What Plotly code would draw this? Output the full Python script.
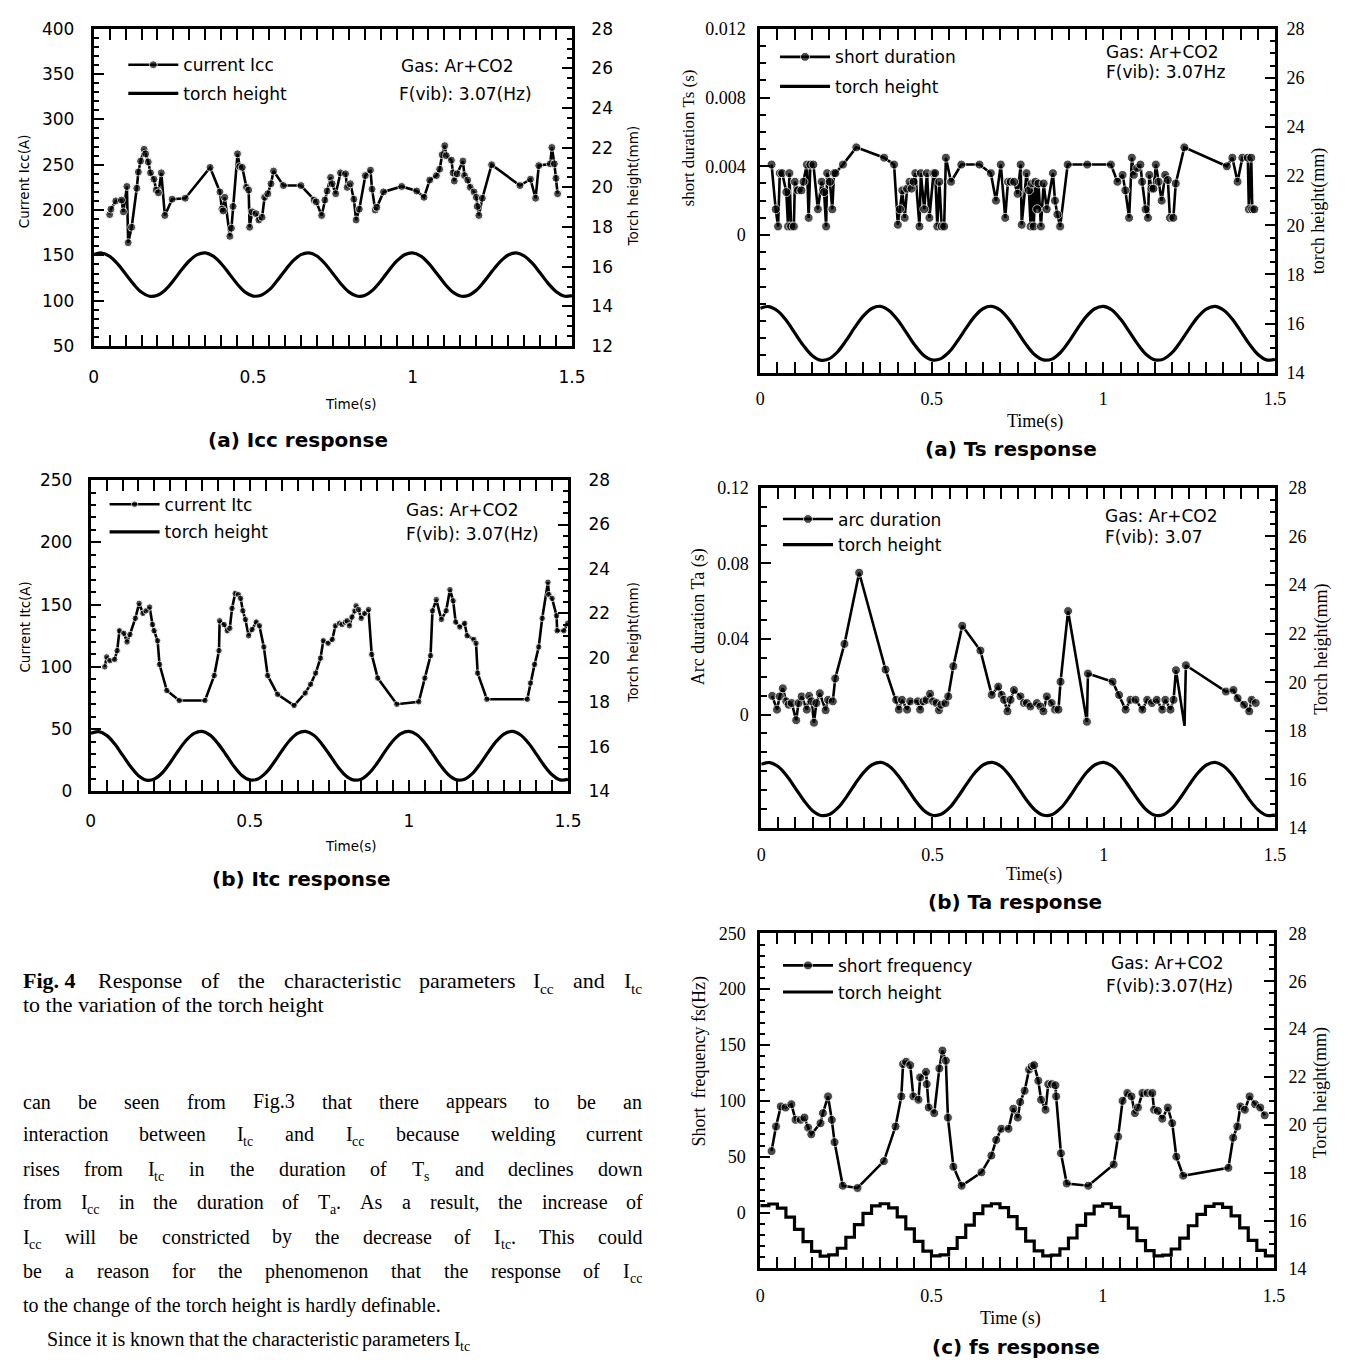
import re
import plotly.graph_objects as go

W, H = 1354, 1371


def fx(p):
    return p / W


def fy(p):
    return 1 - p / H


# ---------------- data ----------------
th_t = [0.000, 0.025, 0.050, 0.075, 0.100, 0.125, 0.150, 0.175, 0.200, 0.225,
        0.250, 0.275, 0.300, 0.325, 0.350, 0.375, 0.400, 0.425, 0.450, 0.475,
        0.500, 0.525, 0.550, 0.575, 0.600, 0.625, 0.650, 0.675, 0.700, 0.725,
        0.750, 0.775, 0.800, 0.825, 0.850, 0.875, 0.900, 0.925, 0.950, 0.975,
        1.000, 1.025, 1.050, 1.075, 1.100, 1.125, 1.150, 1.175, 1.200, 1.225,
        1.250, 1.275, 1.300, 1.325, 1.350, 1.375, 1.400, 1.425, 1.450, 1.475,
        1.500]
th_v = [16.62, 16.69, 16.52, 16.14, 15.63, 15.12, 14.71, 14.51, 14.56, 14.84,
        15.30, 15.83, 16.30, 16.61, 16.70, 16.53, 16.15, 15.65, 15.13, 14.72,
        14.52, 14.56, 14.83, 15.29, 15.81, 16.29, 16.61, 16.70, 16.54, 16.16,
        15.66, 15.14, 14.73, 14.52, 14.55, 14.82, 15.27, 15.80, 16.28, 16.60,
        16.70, 16.55, 16.18, 15.68, 15.16, 14.74, 14.52, 14.55, 14.81, 15.26,
        15.78, 16.26, 16.59, 16.70, 16.55, 16.19, 15.69, 15.17, 14.75, 14.52,
        14.54]

icc_t = [0.050, 0.054, 0.069, 0.087, 0.093, 0.104, 0.108, 0.119, 0.135, 0.140,
         0.147, 0.158, 0.163, 0.171, 0.178, 0.189, 0.196, 0.203, 0.212, 0.223,
         0.246, 0.287, 0.365, 0.396, 0.402, 0.406, 0.411, 0.427, 0.432, 0.437,
         0.451, 0.458, 0.466, 0.479, 0.486, 0.489, 0.497, 0.509, 0.518, 0.528,
         0.536, 0.546, 0.556, 0.564, 0.595, 0.650, 0.691, 0.698, 0.715, 0.725,
         0.732, 0.743, 0.748, 0.759, 0.774, 0.790, 0.795, 0.805, 0.816, 0.823,
         0.833, 0.852, 0.868, 0.873, 0.883, 0.888, 0.909, 0.966, 1.013, 1.036,
         1.054, 1.075, 1.085, 1.093, 1.101, 1.106, 1.122, 1.127, 1.131, 1.140,
         1.158, 1.163, 1.173, 1.181, 1.193, 1.200, 1.203, 1.208, 1.219, 1.248,
         1.337, 1.370, 1.386, 1.396, 1.432, 1.437, 1.445, 1.450, 1.455]
icc_v = [195, 201, 210, 211, 198, 226, 164, 181, 224, 242,
         254, 267, 262, 253, 241, 234, 222, 219, 241, 194,
         212, 213, 247, 220, 201, 199, 214, 171, 180, 204,
         262, 248, 247, 225, 222, 181, 198, 196, 189, 192,
         214, 218, 229, 243, 227, 227, 211, 209, 194, 211,
         221, 236, 229, 218, 241, 240, 225, 229, 212, 189,
         201, 238, 244, 223, 200, 203, 220, 226, 221, 214,
         233, 238, 245, 261, 271, 260, 255, 241, 232, 240,
         254, 238, 233, 225, 220, 214, 204, 194, 213, 250,
         227, 234, 213, 249, 251, 269, 251, 235, 218]

itc_t = [0.044, 0.050, 0.060, 0.075, 0.083, 0.090, 0.104, 0.114, 0.123, 0.140,
         0.152, 0.164, 0.174, 0.185, 0.194, 0.199, 0.210, 0.216, 0.239, 0.278,
         0.359, 0.388, 0.403, 0.405, 0.419, 0.429, 0.437, 0.444, 0.454, 0.464,
         0.471, 0.478, 0.486, 0.496, 0.507, 0.520, 0.530, 0.544, 0.556, 0.587,
         0.639, 0.674, 0.691, 0.707, 0.722, 0.731, 0.746, 0.759, 0.769, 0.782,
         0.790, 0.800, 0.806, 0.813, 0.821, 0.830, 0.834, 0.842, 0.850, 0.861,
         0.873, 0.883, 0.902, 0.962, 1.031, 1.050, 1.068, 1.074, 1.086, 1.102,
         1.117, 1.129, 1.139, 1.147, 1.160, 1.175, 1.183, 1.204, 1.211, 1.216,
         1.245, 1.372, 1.382, 1.395, 1.408, 1.419, 1.437, 1.440, 1.450, 1.464,
         1.466, 1.487, 1.499]
itc_v = [100, 108, 105, 106, 113, 129, 127, 120, 126, 139,
         151, 143, 145, 148, 134, 129, 121, 102, 81, 73,
         73, 93, 113, 137, 134, 129, 131, 147, 159, 158,
         155, 145, 138, 125, 130, 136, 133, 116, 93, 78,
         69, 79, 86, 95, 107, 121, 119, 122, 133, 135,
         134, 136, 137, 133, 140, 145, 149, 146, 139, 143,
         146, 110, 91, 70, 72, 91, 109, 145, 154, 138,
         145, 162, 153, 136, 132, 135, 125, 122, 119, 95,
         74, 74, 87, 102, 116, 139, 168, 158, 155, 141,
         129, 129, 135]

ts_t = [0.033, 0.045, 0.052, 0.057, 0.064, 0.076, 0.081, 0.085, 0.090, 0.098,
        0.101, 0.110, 0.120, 0.126, 0.136, 0.141, 0.146, 0.155, 0.168, 0.179,
        0.186, 0.192, 0.195, 0.203, 0.210, 0.215, 0.219, 0.241, 0.280, 0.361,
        0.390, 0.401, 0.407, 0.414, 0.421, 0.428, 0.435, 0.441, 0.447, 0.452,
        0.464, 0.468, 0.478, 0.486, 0.493, 0.505, 0.510, 0.516, 0.522, 0.529,
        0.536, 0.541, 0.556, 0.586, 0.639, 0.672, 0.687, 0.701, 0.714, 0.722,
        0.730, 0.740, 0.750, 0.759, 0.762, 0.776, 0.783, 0.788, 0.792, 0.797,
        0.802, 0.807, 0.811, 0.818, 0.826, 0.835, 0.853, 0.859, 0.866, 0.874,
        0.896, 0.953, 1.022, 1.041, 1.056, 1.064, 1.075, 1.083, 1.089, 1.099,
        1.108, 1.113, 1.123, 1.130, 1.134, 1.140, 1.146, 1.153, 1.161, 1.170,
        1.180, 1.188, 1.194, 1.204, 1.211, 1.236, 1.360, 1.376, 1.391, 1.405,
        1.421, 1.424, 1.431, 1.434, 1.440]
ts_ms = [4.1, 1.5, 0.5, 3.6, 3.6, 2.5, 0.5, 3.6, 0.5, 0.5,
         3.1, 2.6, 2.6, 3.1, 4.1, 1.0, 4.1, 4.1, 1.5, 3.1,
         2.5, 0.5, 3.6, 3.1, 1.5, 3.6, 3.6, 4.1, 5.1, 4.5,
         4.1, 0.6, 1.5, 2.6, 1.0, 2.7, 3.1, 2.7, 3.1, 3.6,
         0.5, 3.6, 1.5, 3.6, 1.0, 3.6, 3.6, 0.5, 3.1, 0.5,
         0.5, 4.5, 3.1, 4.1, 4.1, 3.6, 2.0, 4.1, 1.0, 3.1,
         3.1, 3.1, 2.4, 4.1, 0.6, 3.6, 2.6, 0.5, 3.0, 0.5,
         3.1, 1.5, 3.0, 0.5, 3.0, 1.5, 3.6, 2.0, 1.2, 0.5,
         4.1, 4.1, 4.1, 3.1, 3.5, 2.6, 1.0, 4.5, 3.5, 3.9,
         4.1, 3.1, 1.5, 1.0, 3.5, 2.7, 2.7, 4.1, 3.1, 2.0,
         3.5, 3.2, 1.0, 1.0, 3.0, 5.1, 4.0, 4.5, 3.1, 4.5,
         4.5, 1.5, 4.5, 1.5, 1.5]

ta_t = [0.032, 0.046, 0.054, 0.063, 0.073, 0.080, 0.089, 0.102, 0.109, 0.118,
        0.133, 0.140, 0.147, 0.154, 0.161, 0.171, 0.188, 0.195, 0.209, 0.216,
        0.243, 0.286, 0.363, 0.394, 0.402, 0.411, 0.426, 0.435, 0.457, 0.464,
        0.474, 0.483, 0.493, 0.502, 0.512, 0.519, 0.526, 0.538, 0.546, 0.561,
        0.587, 0.640, 0.673, 0.692, 0.702, 0.709, 0.719, 0.728, 0.738, 0.757,
        0.767, 0.776, 0.786, 0.805, 0.815, 0.824, 0.834, 0.848, 0.858, 0.868,
        0.874, 0.896, 0.951, 0.954, 1.026, 1.045, 1.064, 1.078, 1.093, 1.113,
        1.127, 1.141, 1.155, 1.171, 1.180, 1.195, 1.204, 1.211, 1.236, 1.240,
        1.357, 1.379, 1.391, 1.410, 1.425, 1.432, 1.444]
ta_ms = [9.9, 2.6, 9.6, 13.9, 7.0, 5.2, 6.1, -3.0, 6.1, 9.6,
         2.6, 9.9, 7.0, -4.3, 6.1, 11.3, 2.3, 7.8, 7.0, 19.1,
         37.4, 75.1, 23.8, 7.8, 2.6, 7.8, 2.6, 7.0, 7.0, 2.6,
         7.0, 7.8, 11.0, 7.0, 6.1, 2.3, 5.2, 6.1, 9.6, 25.6,
         47.0, 33.9, 10.4, 14.8, 10.4, 7.8, 1.7, 7.8, 13.0, 9.6,
         6.1, 6.1, 4.3, 6.1, 4.3, 1.7, 9.6, 6.1, 2.6, 2.6,
         17.4, 54.8, -3.8, 21.7, 17.4, 10.4, 2.6, 7.8, 7.8, 2.6,
         7.8, 6.1, 7.8, 2.6, 7.8, 2.6, 7.8, 23.5, -6.0, 26.1,
         12.2, 13.0, 8.7, 5.2, 1.7, 7.8, 6.1]
ta_spike_t = [1.236]  # point drawn without a marker

fs_t = [0.033, 0.046, 0.060, 0.074, 0.091, 0.103, 0.118, 0.129, 0.140, 0.149,
        0.176, 0.183, 0.198, 0.209, 0.217, 0.241, 0.284, 0.361, 0.395, 0.412,
        0.417, 0.426, 0.438, 0.447, 0.462, 0.467, 0.484, 0.486, 0.492, 0.508,
        0.523, 0.532, 0.542, 0.548, 0.564, 0.588, 0.646, 0.675, 0.689, 0.704,
        0.725, 0.739, 0.752, 0.759, 0.772, 0.785, 0.793, 0.800, 0.812, 0.820,
        0.833, 0.841, 0.852, 0.862, 0.864, 0.878, 0.895, 0.958, 1.032, 1.045,
        1.058, 1.072, 1.084, 1.094, 1.103, 1.116, 1.131, 1.145, 1.150, 1.161,
        1.174, 1.190, 1.203, 1.215, 1.235, 1.367, 1.381, 1.393, 1.402, 1.415,
        1.429, 1.445, 1.460, 1.473]
fs_v = [55, 77, 95, 94, 97, 83, 83, 85, 76, 70,
        80, 89, 104, 83, 63, 24, 22, 46, 77, 104,
        133, 135, 132, 104, 101, 121, 126, 115, 94, 89,
        129, 145, 136, 85, 41, 24, 36, 51, 65, 75,
        75, 93, 85, 99, 109, 128, 131, 132, 118, 101,
        92, 115, 115, 114, 104, 53, 26, 24, 43, 68,
        100, 107, 104, 89, 94, 107, 107, 107, 92, 91,
        84, 94, 80, 50, 33, 40, 67, 77, 95, 92,
        104, 97, 94, 87]

# tick labels
x_tickvals = [0, 0.5, 1, 1.5]
x_ticktext = ['0', '0.5', '1', '1.5']
icc_ticks = [50, 100, 150, 200, 250, 300, 350, 400]
itc_ticks = [0, 50, 100, 150, 200, 250]
ts_tickvals = [0, 0.004, 0.008, 0.012]
ts_ticktext = ['0', '0.004', '0.008', '0.012']
ta_tickvals = [0, 0.04, 0.08, 0.12]
ta_ticktext = ['0', '0.04', '0.08', '0.12']
fs_tickvals = [0, 50, 100, 150, 200, 250]
fs_ticktext = ['0', '50', '100', '150', '200', '250']
th_ticks_12 = [12, 14, 16, 18, 20, 22, 24, 26, 28]
th_ticks_14 = [14, 16, 18, 20, 22, 24, 26, 28]

# ---------------- styling ----------------
SANS = 'DejaVu Sans'
SERIF = 'Liberation Serif'
BLACK = 'black'

panels = [
    dict(box=(90, 575, 19, 341), fam=SANS, fsz=17,
         t=icc_t, v=icc_v, name='current Icc', msize=8,
         yl=dict(range=[50, 400], tickvals=icc_ticks, ticktext=[str(v) for v in icc_ticks], minor=10, mlen=5),
         yr=dict(range=[12, 28], tickvals=th_ticks_12),
         stand=(14, 13, 13), leg=((125, 56), (125, 85)), shape='spline'),
    dict(box=(87, 571, 477, 793), fam=SANS, fsz=17,
         t=itc_t, v=itc_v, name='current Itc', msize=6.5,
         yl=dict(range=[0, 250], tickvals=itc_ticks, ticktext=[str(v) for v in itc_ticks], minor=10, mlen=5),
         yr=dict(range=[14, 28], tickvals=th_ticks_14),
         stand=(12, 12, 14), leg=((106, 502), (106, 530)), shape='spline'),
    dict(box=(766, 1288, 19, 368), fam=SERIF, fsz=18,
         t=ts_t, v=[m / 1000 for m in ts_ms], name='short duration', msize=9,
         yl=dict(range=[-0.008, 0.012], tickvals=ts_tickvals, ticktext=ts_ticktext, minor=0.001, mlen=6),
         yr=dict(range=[14, 28], tickvals=th_ticks_14),
         stand=(8, 8, 5), leg=((786, 48), (786, 78)), shape='spline'),
    dict(box=(767, 1288, 485, 830), fam=SERIF, fsz=18,
         t=ta_t, v=[m / 1000 for m in ta_ms], name='arc duration', msize=9,
         yl=dict(range=[-0.06, 0.12], tickvals=ta_tickvals, ticktext=ta_ticktext, minor=0.01, mlen=6),
         yr=dict(range=[14, 28], tickvals=th_ticks_14),
         stand=(9, 6, 7), leg=((789, 517), (789, 543)), shape='spline'),
    dict(box=(766, 1287, 937, 1277), fam=SERIF, fsz=18,
         t=fs_t, v=fs_v, name='short frequency', msize=9,
         yl=dict(range=[-50, 250], tickvals=fs_tickvals, ticktext=fs_ticktext, minor=10, mlen=5),
         yr=dict(range=[14, 28], tickvals=th_ticks_14),
         stand=(9, 8, 8), leg=((789, 970), (789, 997)), shape='hv'),
]

fig = go.Figure()
layout = dict(
    width=W, height=H, autosize=False,
    margin=dict(l=0, r=0, t=0, b=0, pad=0),
    paper_bgcolor='white', plot_bgcolor='white',
    showlegend=True,
)


def legend_cfg(x, y):
    return dict(x=fx(x - 5), y=fy(y), xanchor='left', yanchor='middle',
                bgcolor='rgba(0,0,0,0)', borderwidth=0, itemwidth=50,
                font=dict(family=SANS, size=17, color=BLACK))


for i, p in enumerate(panels, start=1):
    L, R, T, B = p['box']
    xid = 'x' if i == 1 else f'x{i}'
    xkey = 'xaxis' if i == 1 else f'xaxis{i}'
    ylid = 'y' if i == 1 else f'y{2 * i - 1}'
    ylkey = 'yaxis' if i == 1 else f'yaxis{2 * i - 1}'
    yrid = f'y{2 * i}'
    yrkey = f'yaxis{2 * i}'
    lg1 = 'legend' if i == 1 else f'legend{2 * i - 1}'
    lg2 = f'legend{2 * i}'
    font = dict(family=p['fam'], size=p['fsz'], color=BLACK)
    sx, syl, syr = p['stand']

    common = dict(showgrid=False, zeroline=False, showline=True, linewidth=3,
                  linecolor=BLACK, ticks='inside', tickwidth=2, tickcolor=BLACK,
                  tickfont=font, fixedrange=True)

    layout[xkey] = dict(common, domain=[fx(L), fx(R)], anchor=ylid, range=[0, 1.5],
                        tickmode='array', tickvals=x_tickvals, ticktext=x_ticktext,
                        ticklen=11, mirror='allticks', ticklabelstandoff=sx,
                        minor=dict(tickmode='linear', tick0=0, dtick=0.05, ticks='inside',
                                   ticklen=6, tickwidth=2, tickcolor=BLACK, showgrid=False))
    layout[ylkey] = dict(common, domain=[fy(B), fy(T)], anchor=xid, range=p['yl']['range'],
                         tickmode='array', tickvals=p['yl']['tickvals'], ticktext=p['yl']['ticktext'],
                         ticklen=10, side='left', ticklabelstandoff=syl,
                         minor=dict(tickmode='linear', tick0=0, dtick=p['yl']['minor'], ticks='inside',
                                    ticklen=p['yl']['mlen'], tickwidth=2, tickcolor=BLACK, showgrid=False))
    layout[yrkey] = dict(common, overlaying=ylid, anchor=xid, side='right', range=p['yr']['range'],
                         tickmode='array', tickvals=p['yr']['tickvals'],
                         ticktext=[str(v) for v in p['yr']['tickvals']],
                         ticklen=10, ticklabelstandoff=syr,
                         minor=dict(tickmode='linear', tick0=0, dtick=0.5, ticks='inside',
                                    ticklen=5, tickwidth=2, tickcolor=BLACK, showgrid=False))

    msizes = [p['msize']] * len(p['t'])
    if i == 4:
        msizes = [0 if t in ta_spike_t else p['msize'] for t in p['t']]

    fig.add_trace(go.Scatter(x=p['t'], y=p['v'], mode='lines+markers', name=p['name'],
                             line=dict(color=BLACK, width=2.6),
                             marker=dict(color=BLACK, size=msizes),
                             xaxis=xid, yaxis=ylid, legend=lg1, hoverinfo='skip'))
    fig.add_trace(go.Scatter(x=th_t, y=th_v, mode='lines', name='torch height',
                             line=dict(color=BLACK, width=3.2, shape=p['shape']),
                             xaxis=xid, yaxis=yrid, legend=lg2, hoverinfo='skip'))
    layout[lg1] = legend_cfg(*p['leg'][0])
    layout[lg2] = legend_cfg(*p['leg'][1])

# ---------------- text ----------------
ann = []


def txt(text, x, y, size, family, xanchor='center', angle=0):
    ann.append(dict(text=text, x=fx(x), y=fy(y), xref='paper', yref='paper',
                    xanchor=xanchor, yanchor='middle', showarrow=False, textangle=angle,
                    font=dict(family=family, size=size, color=BLACK)))


txt('Current Icc(A)', 20, 174, 13.5, SANS, angle=-90)
txt('Torch height(mm)', 637, 179, 13.5, SANS, angle=-90)
txt('Time(s)', 351, 400, 13.5, SANS)
txt('Gas: Ar+CO2', 400, 57, 17, SANS, 'left')
txt('F(vib): 3.07(Hz)', 398, 85, 17, SANS, 'left')
txt('<b>(a) Icc response</b>', 297, 436, 20, SANS)

txt('Current Itc(A)', 20, 626, 13.5, SANS, angle=-90)
txt('Torch height(mm)', 637, 642, 13.5, SANS, angle=-90)
txt('Time(s)', 351, 848, 13.5, SANS)
txt('Gas: Ar+CO2', 405, 507, 17, SANS, 'left')
txt('F(vib): 3.07(Hz)', 405, 532, 17, SANS, 'left')
txt('<b>(b) Itc response</b>', 300, 882, 20, SANS)

txt('short duration Ts (s)', 693, 130, 17, SERIF, angle=-90)
txt('torch height(mm)', 1332, 204, 18, SERIF, angle=-90)
txt('Time(s)', 1045, 418, 18, SERIF)
txt('Gas: Ar+CO2', 1115, 43, 17, SANS, 'left')
txt('F(vib): 3.07Hz', 1115, 63, 17, SANS, 'left')
txt('<b>(a) Ts response</b>', 1020, 445, 20, SANS)

txt('Arc duration Ta (s)', 703, 616, 18, SERIF, angle=-90)
txt('Torch height(mm)', 1335, 649, 18, SERIF, angle=-90)
txt('Time(s)', 1044, 877, 18, SERIF)
txt('Gas: Ar+CO2', 1114, 513, 17, SANS, 'left')
txt('F(vib): 3.07', 1114, 535, 17, SANS, 'left')
txt('<b>(b) Ta response</b>', 1024, 905, 20, SANS)

txt('Short&nbsp;&nbsp;frequency fs(Hz)', 704, 1067, 18, SERIF, angle=-90)
txt('Torch height(mm)', 1335, 1099, 18, SERIF, angle=-90)
txt('Time (s)', 1020, 1328, 18, SERIF)
txt('Gas: Ar+CO2', 1120, 967, 17, SANS, 'left')
txt('F(vib):3.07(Hz)', 1115, 990, 17, SANS, 'left')
txt('<b>(c) fs response</b>', 1025, 1357, 20, SANS)

# Times character widths (per 1000 em), used to lay out words and subscripts
TW = dict(zip(' abcdefghijklmnopqrstuvwxyz',
              [250, 444, 500, 444, 500, 444, 333, 500, 500, 278, 278, 500, 278, 778,
               500, 500, 500, 500, 333, 389, 278, 500, 500, 722, 500, 500, 444]))
TW.update(dict(zip('ABCDEFGHIJKLMNOPQRSTUVWXYZ',
                   [722, 667, 667, 722, 611, 556, 722, 722, 333, 389, 722, 611, 889,
                    722, 722, 556, 722, 667, 556, 611, 722, 722, 944, 722, 722, 611])))
TW.update({'.': 250, ',': 250, ':': 278, '(': 333, ')': 333})
for d in '0123456789':
    TW[d] = 500
SUB = 0.7


def segments(word):
    out = []
    for part in re.split(r'(_\{.*?\})', word):
        if not part:
            continue
        if part.startswith('_{'):
            out.append((part[2:-1], True))
        else:
            out.append((part, False))
    return out


def plain_w(s, size):
    s = s.replace('&nbsp;', ' ').replace('<b>', '').replace('</b>', '')
    return sum(TW.get(c, 500) for c in s) * size / 1000.0


def word_w(word, size):
    return sum(plain_w(s, size * SUB if sub else size) for s, sub in segments(word))


def draw_word(word, x, y, size):
    for s, sub in segments(word):
        if sub:
            txt(s, x, y + 0.38 * size, size * SUB, SERIF, 'left')
            x += plain_w(s, size * SUB)
        else:
            txt(s, x, y, size, SERIF, 'left')
            x += plain_w(s, size)


def place_words(words, y, left, size, right=None):
    widths = [word_w(wd, size) for wd in words]
    if right is None:
        gap = 0.25 * size
    else:
        gap = (right - left - sum(widths)) / (len(words) - 1)
    xx = left
    for wd, wdw in zip(words, widths):
        draw_word(wd, xx, y, size)
        xx += wdw + gap


TXT_L, TXT_R = 16, 644

# figure caption
place_words(['<b>Fig.&nbsp;4</b>&nbsp;', 'Response', 'of', 'the', 'characteristic', 'parameters',
             'I_{cc}', 'and', 'I_{tc}'], 985, TXT_L, 22, TXT_R)
txt('to the variation of the torch height', TXT_L, 1009, 22, SERIF, 'left')

# body text
body_lines = [
    'can be seen from Fig.3 that there appears to be an',
    'interaction between I_{tc} and I_{cc} because welding current',
    'rises from I_{tc} in the duration of T_{s} and declines down',
    'from I_{cc} in the duration of T_{a}. As a result, the increase of',
    'I_{cc} will be constricted by the decrease of I_{tc}. This could',
    'be a reason for the phenomenon that the response of I_{cc}',
    'to the change of the torch height is hardly definable.',
    'Since it is known that the characteristic parameters I_{tc}',
]
body_y = [1108, 1141, 1176, 1210, 1245, 1280, 1315, 1349]
BODY_SZ = 20
for k, (line, yy) in enumerate(zip(body_lines, body_y)):
    if k < 6:
        place_words(line.split(' '), yy, TXT_L, BODY_SZ, TXT_R)
    elif k == 6:
        txt(line, TXT_L, yy, BODY_SZ, SERIF, 'left')
    else:
        place_words(line.split(' '), yy, TXT_L + 25, BODY_SZ)

layout['annotations'] = ann
fig.update_layout(**layout)

PAGE_FIX = """
(function(){
  var s = document.createElement('style');
  s.innerHTML = 'html,body{margin:0;padding:0;overflow:hidden;}';
  document.head.appendChild(s);
})();
"""
fig.write_html('out.html', config={'displayModeBar': False}, post_script=PAGE_FIX)
